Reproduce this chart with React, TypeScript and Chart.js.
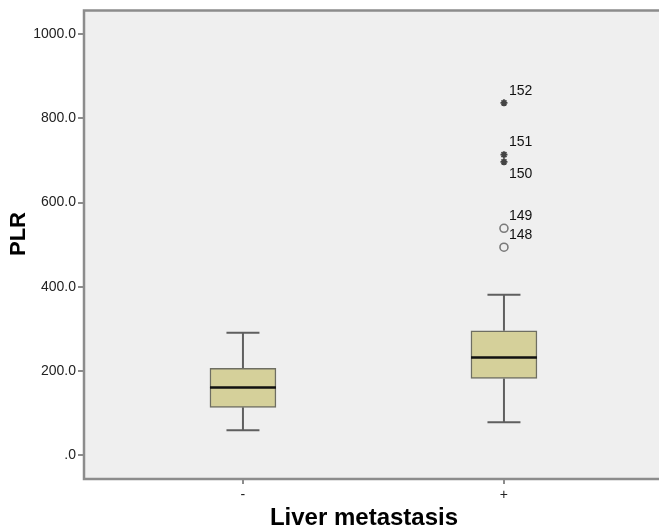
import React, { useEffect, useRef } from 'react';
import { Chart, registerables } from 'chart.js';

Chart.register(...registerables);

// ---- data ----
const CATEGORIES = ['-', '+'];
const WHISKER_LOW = [59, 78];
const Q1 = [113.5, 182];
const MEDIAN = [161, 232];
const Q3 = [206, 295.5];
const WHISKER_HIGH = [291, 381];

const OUTLIER_IDS = ['152', '151', '150', '149', '148'];
const OUTLIER_VALUES = [837, 714, 697, 539, 494];
const OUTLIER_GROUP = [2, 2, 2, 2, 2];
const OUTLIER_EXTREME = [true, true, true, false, false];

const Y_TICKS = [0, 200, 400, 600, 800, 1000];
const Y_TITLE = 'PLR';
const X_TITLE = 'Liver metastasis';

// ---- style ----
const FONT = '"Liberation Sans", Arial, Helvetica, sans-serif';
const X_MIN = 0.391;
const X_MAX = 2.594;
const Y_MIN = -56.7;
const Y_MAX = 1056.7;
const BOX_HALF = 0.1264;
const CAP_HALF = 0.0632;
const LABEL_BELOW = new Set(['150']);

function buildMedian() {
  const pts: any[] = [];
  MEDIAN.forEach((m, i) => {
    const c = i + 1;
    pts.push({ x: c - BOX_HALF, y: m }, { x: c + BOX_HALF, y: m }, { x: c + 0.5, y: null });
  });
  return pts;
}

function buildWhiskers() {
  const pts: any[] = [];
  CATEGORIES.forEach((_, i) => {
    const c = i + 1;
    pts.push({ x: c, y: Q3[i] }, { x: c, y: WHISKER_HIGH[i] }, { x: c + 0.01, y: null });
    pts.push({ x: c - CAP_HALF, y: WHISKER_HIGH[i] }, { x: c + CAP_HALF, y: WHISKER_HIGH[i] }, { x: c + 0.02, y: null });
    pts.push({ x: c, y: Q1[i] }, { x: c, y: WHISKER_LOW[i] }, { x: c + 0.03, y: null });
    pts.push({ x: c - CAP_HALF, y: WHISKER_LOW[i] }, { x: c + CAP_HALF, y: WHISKER_LOW[i] }, { x: c + 0.04, y: null });
  });
  return pts;
}

const framePlugin = {
  id: 'frame',
  beforeDatasetsDraw(chart: any) {
    const { ctx, chartArea: a } = chart;
    ctx.save();
    ctx.fillStyle = '#efefef';
    ctx.fillRect(a.left, a.top, a.right - a.left, a.bottom - a.top);
    ctx.restore();
  },
  afterDraw(chart: any) {
    const { ctx, chartArea: a } = chart;
    ctx.save();
    ctx.strokeStyle = '#8c8c8c';
    ctx.lineWidth = 2.5;
    ctx.beginPath();
    ctx.moveTo(a.right + 5, a.top);
    ctx.lineTo(a.left, a.top);
    ctx.lineTo(a.left, a.bottom);
    ctx.lineTo(a.right + 5, a.bottom);
    ctx.stroke();

    // outlier labels
    const xs = chart.scales.x;
    const ys = chart.scales.y;
    ctx.fillStyle = '#111';
    ctx.font = `14px ${FONT}`;
    ctx.textAlign = 'left';
    ctx.textBaseline = 'middle';
    OUTLIER_IDS.forEach((id, i) => {
      const px = xs.getPixelForValue(OUTLIER_GROUP[i]);
      const py = ys.getPixelForValue(OUTLIER_VALUES[i]);
      const dy = LABEL_BELOW.has(id) ? 12 : -12;
      ctx.fillText(id, px + 5, py + dy);
    });

    // axis titles
    ctx.fillStyle = '#000';
    ctx.textAlign = 'center';
    ctx.textBaseline = 'middle';
    ctx.font = `bold 24px ${FONT}`;
    ctx.fillText(X_TITLE, 364, 518);
    ctx.save();
    ctx.translate(19, 234);
    ctx.rotate(-Math.PI / 2);
    ctx.font = `bold 22px ${FONT}`;
    ctx.fillText(Y_TITLE, 0, 0);
    ctx.restore();
    ctx.restore();
  },
};

export default function App() {
  const ref = useRef<HTMLCanvasElement>(null);
  useEffect(() => {
    document.body.style.margin = '0';
    const canvas = ref.current!;
    const chart = new Chart(canvas, {
      type: 'bar',
      data: {
        datasets: [
          {
            type: 'bar',
            label: 'box',
            data: CATEGORIES.map((_, i) => ({ x: i + 1, y: [Q1[i], Q3[i]] })) as any,
            backgroundColor: 'rgb(213,208,154)',
            borderColor: '#6e6e62',
            borderWidth: 1.5,
            borderSkipped: false,
            barThickness: 66,
            grouped: false,
            order: 3,
          } as any,
          {
            type: 'line',
            label: 'whiskers',
            data: buildWhiskers(),
            borderColor: '#5f5f5f',
            borderWidth: 2,
            pointRadius: 0,
            spanGaps: false,
            tension: 0,
            order: 4,
          } as any,
          {
            type: 'line',
            label: 'median',
            data: buildMedian(),
            borderColor: '#111',
            borderWidth: 2.5,
            pointRadius: 0,
            spanGaps: false,
            tension: 0,
            order: 1,
          } as any,
          {
            type: 'line',
            label: 'outliers',
            data: OUTLIER_VALUES.map((v, i) => ({ x: OUTLIER_GROUP[i], y: v })),
            showLine: false,
            pointStyle: (c: any) => (OUTLIER_EXTREME[c.dataIndex] ? 'star' : 'circle'),
            pointRadius: (c: any) => (OUTLIER_EXTREME[c.dataIndex] ? 3.5 : 4),
            pointBorderWidth: (c: any) => (OUTLIER_EXTREME[c.dataIndex] ? 1.8 : 1.6),
            pointBorderColor: (c: any) => (OUTLIER_EXTREME[c.dataIndex] ? '#444' : '#7a7a7a'),
            pointBackgroundColor: 'rgba(0,0,0,0)',
            order: 0,
          } as any,
        ],
      },
      options: {
        responsive: false,
        animation: false,
        events: [],
        layout: { autoPadding: false, padding: { top: 8, left: 0, right: 0, bottom: 0 } },
        plugins: { legend: { display: false }, tooltip: { enabled: false } },
        scales: {
          x: {
            type: 'linear',
            min: X_MIN,
            max: X_MAX,
            offset: false,
            afterBuildTicks: (s: any) => {
              s.ticks = CATEGORIES.map((_, i) => ({ value: i + 1 }));
            },
            afterFit: (s: any) => {
              s.height = 53;
              s.paddingLeft = 0;
              s.paddingRight = 0;
            },
            ticks: {
              callback: (v: any) => CATEGORIES[Number(v) - 1] ?? '',
              color: '#222',
              font: { family: FONT, size: 14 },
              padding: 3,
              maxRotation: 0,
              autoSkip: false,
            },
            grid: {
              offset: false,
              drawOnChartArea: false,
              drawTicks: true,
              tickLength: 5,
              color: '#8c8c8c',
              lineWidth: 2,
            },
            border: { display: false },
          },
          y: {
            type: 'linear',
            min: Y_MIN,
            max: Y_MAX,
            afterBuildTicks: (s: any) => {
              s.ticks = Y_TICKS.map((v) => ({ value: v }));
            },
            afterFit: (s: any) => {
              s.width = 84;
            },
            ticks: {
              callback: (v: any) => (Number(v) === 0 ? '.0' : Number(v).toFixed(1)),
              color: '#222',
              font: { family: FONT, size: 14 },
              padding: 2,
            },
            grid: {
              drawOnChartArea: false,
              drawTicks: true,
              tickLength: 6,
              color: '#8c8c8c',
              lineWidth: 2,
            },
            border: { display: false },
          },
        },
      },
      plugins: [framePlugin],
    });
    return () => chart.destroy();
  }, []);
  return <canvas ref={ref} width={659} height={532} style={{ display: 'block' }} />;
}
